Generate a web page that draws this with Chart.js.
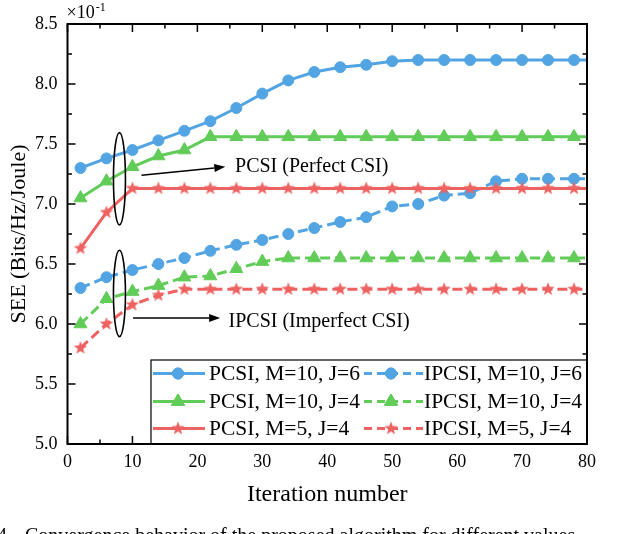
<!DOCTYPE html>
<html>
<head>
<meta charset="utf-8">
<script src="https://cdn.jsdelivr.net/npm/chart.js@4.4.1/dist/chart.umd.min.js"></script>
<style>
  html, body { margin: 0; padding: 0; background: #fff; }
  canvas { display: block; }
</style>
</head>
<body>
<canvas id="chart" width="620" height="534"></canvas>
<script>
// iteration numbers (markers every 4 iterations, last point only carries the line)
var iters = [2, 6, 10, 14, 18, 22, 26, 30, 34, 38, 42, 46, 50, 54, 58, 62, 66, 70, 74, 78, 80];

var pcsiM10J6  = [7.30, 7.38, 7.45, 7.53, 7.61, 7.69, 7.80, 7.92, 8.03, 8.10, 8.14, 8.16, 8.19, 8.20, 8.20, 8.20, 8.20, 8.20, 8.20, 8.20, 8.20];
var pcsiM10J4  = [7.05, 7.19, 7.31, 7.40, 7.45, 7.56, 7.56, 7.56, 7.56, 7.56, 7.56, 7.56, 7.56, 7.56, 7.56, 7.56, 7.56, 7.56, 7.56, 7.56, 7.56];
var pcsiM5J4   = [6.63, 6.93, 7.13, 7.13, 7.13, 7.13, 7.13, 7.13, 7.13, 7.13, 7.13, 7.13, 7.13, 7.13, 7.13, 7.13, 7.13, 7.13, 7.13, 7.13, 7.13];
var ipcsiM10J6 = [6.30, 6.39, 6.45, 6.50, 6.55, 6.61, 6.66, 6.70, 6.75, 6.80, 6.85, 6.89, 6.98, 7.00, 7.07, 7.09, 7.19, 7.21, 7.21, 7.21, 7.21];
var ipcsiM10J4 = [6.00, 6.21, 6.27, 6.32, 6.39, 6.40, 6.46, 6.52, 6.55, 6.55, 6.55, 6.55, 6.55, 6.55, 6.55, 6.55, 6.55, 6.55, 6.55, 6.55, 6.55];
var ipcsiM5J4  = [5.80, 6.00, 6.16, 6.24, 6.29, 6.29, 6.29, 6.29, 6.29, 6.29, 6.29, 6.29, 6.29, 6.29, 6.29, 6.29, 6.29, 6.29, 6.29, 6.29, 6.29];

var seriesLabels = [
  'PCSI, M=10, J=6', 'PCSI, M=10, J=4', 'PCSI, M=5, J=4',
  'IPCSI, M=10, J=6', 'IPCSI, M=10, J=4', 'IPCSI, M=5, J=4'
];

var xTicks = [0, 10, 20, 30, 40, 50, 60, 70, 80];
var yTicks = [5.0, 5.5, 6.0, 6.5, 7.0, 7.5, 8.0, 8.5];

var BLUE = '#52a5e2', GREEN = '#62cc59', RED = '#ee6262';
var FONT = "'Liberation Serif', 'Times New Roman', serif";

function makeStar(color, r) {
  var c = document.createElement('canvas');
  var s = Math.ceil(r * 2 + 2);
  c.width = s; c.height = s;
  var g = c.getContext('2d');
  g.fillStyle = color;
  g.beginPath();
  for (var i = 0; i < 10; i++) {
    var a = -Math.PI / 2 + i * Math.PI / 5;
    var rr = (i % 2) ? r * 0.42 : r;
    var px = s / 2 + Math.cos(a) * rr, py = s / 2 + Math.sin(a) * rr;
    if (i === 0) g.moveTo(px, py); else g.lineTo(px, py);
  }
  g.closePath();
  g.fill();
  return c;
}
var redStar = makeStar(RED, 7);

function pts(values) {
  return values.map(function (v, i) { return { x: iters[i], y: v }; });
}
// no marker on the trailing line-only point
var radii = iters.map(function (v, i) { return i === iters.length - 1 ? 0 : 1; });

function ds(label, values, color, style, size, dashed) {
  return {
    label: label,
    data: pts(values),
    borderColor: color,
    backgroundColor: color,
    borderWidth: 3,
    borderDash: dashed ? [10, 5] : [],
    pointStyle: style,
    pointRadius: radii.map(function (r) { return r * size; }),
    pointBorderWidth: 1,
    pointBackgroundColor: color,
    pointBorderColor: color,
    tension: 0,
    fill: false
  };
}

var datasets = [
  ds(seriesLabels[0], pcsiM10J6, BLUE, 'circle', 5.5, false),
  ds(seriesLabels[1], pcsiM10J4, GREEN, 'triangle', 7.5, false),
  ds(seriesLabels[2], pcsiM5J4, RED, redStar, 7, false),
  ds(seriesLabels[3], ipcsiM10J6, BLUE, 'circle', 5.5, true),
  ds(seriesLabels[4], ipcsiM10J4, GREEN, 'triangle', 7.5, true),
  ds(seriesLabels[5], ipcsiM5J4, RED, redStar, 7, true)
];

function drawMarker(ctx, d, x, y) {
  var st = d.pointStyle;
  if (st instanceof HTMLCanvasElement) {
    ctx.drawImage(st, x - st.width / 2, y - st.height / 2);
    return;
  }
  Chart.helpers.drawPoint(ctx, {
    pointStyle: st, radius: d.pointRadius[0], rotation: 0, borderWidth: 1
  }, x, y);
  ctx.fill();
  ctx.stroke();
}

function arrow(ctx, x1, y1, x2, y2) {
  var ang = Math.atan2(y2 - y1, x2 - x1), L = 11, W = 4;
  ctx.beginPath();
  ctx.moveTo(x1, y1);
  ctx.lineTo(x2 - Math.cos(ang) * L, y2 - Math.sin(ang) * L);
  ctx.stroke();
  ctx.beginPath();
  ctx.moveTo(x2, y2);
  ctx.lineTo(x2 - Math.cos(ang) * L - Math.sin(ang) * W, y2 - Math.sin(ang) * L + Math.cos(ang) * W);
  ctx.lineTo(x2 - Math.cos(ang) * L + Math.sin(ang) * W, y2 - Math.sin(ang) * L - Math.cos(ang) * W);
  ctx.closePath();
  ctx.fill();
}

var decor = {
  id: 'decor',
  afterDraw: function (chart) {
    var ctx = chart.ctx, a = chart.chartArea, xs = chart.scales.x, ys = chart.scales.y;
    ctx.save();
    ctx.strokeStyle = '#000';
    ctx.fillStyle = '#000';
    ctx.lineWidth = 1.5;
    ctx.setLineDash([]);

    // inward ticks on all four sides, minor ticks halfway
    ctx.beginPath();
    xTicks.forEach(function (v, i) {
      var px = xs.getPixelForValue(v);
      ctx.moveTo(px, a.bottom); ctx.lineTo(px, a.bottom - 8);
      ctx.moveTo(px, a.top); ctx.lineTo(px, a.top + 8);
      if (i < xTicks.length - 1) {
        var pm = xs.getPixelForValue((v + xTicks[i + 1]) / 2);
        ctx.moveTo(pm, a.bottom); ctx.lineTo(pm, a.bottom - 4.5);
        ctx.moveTo(pm, a.top); ctx.lineTo(pm, a.top + 4.5);
      }
    });
    yTicks.forEach(function (v, i) {
      var py = ys.getPixelForValue(v);
      ctx.moveTo(a.left, py); ctx.lineTo(a.left + 8, py);
      ctx.moveTo(a.right, py); ctx.lineTo(a.right - 8, py);
      if (i < yTicks.length - 1) {
        var pm = ys.getPixelForValue((v + yTicks[i + 1]) / 2);
        ctx.moveTo(a.left, pm); ctx.lineTo(a.left + 4.5, pm);
        ctx.moveTo(a.right, pm); ctx.lineTo(a.right - 4.5, pm);
      }
    });
    ctx.stroke();

    // legend box, two columns
    var lx = 151, ly = 360, lr = a.right, lb = a.bottom;
    ctx.fillStyle = '#fff';
    ctx.fillRect(lx, ly, lr - lx, lb - ly);
    ctx.lineWidth = 1.2;
    ctx.strokeRect(lx, ly, lr - lx, lb - ly);
    var rows = [373.5, 401.5, 428.5];
    var cols = [{ l0: 153, l1: 205, m: 178, t: 209 }, { l0: 364, l1: 423, m: 391, t: 424 }];
    ctx.font = '21.5px ' + FONT;
    ctx.textBaseline = 'middle';
    ctx.textAlign = 'left';
    datasets.forEach(function (d, i) {
      var c = cols[i < 3 ? 0 : 1], y = rows[i % 3];
      ctx.strokeStyle = d.borderColor;
      ctx.fillStyle = d.borderColor;
      ctx.lineWidth = 3;
      ctx.setLineDash(i < 3 ? [] : [8, 5]);
      ctx.beginPath(); ctx.moveTo(c.l0, y); ctx.lineTo(c.l1, y); ctx.stroke();
      ctx.setLineDash([]);
      ctx.lineWidth = 1;
      drawMarker(ctx, d, c.m, y);
      ctx.fillStyle = '#000';
      ctx.fillText(d.label, c.t, y + 1);
    });

    // plot frame
    ctx.strokeStyle = '#000';
    ctx.fillStyle = '#000';
    ctx.lineWidth = 2;
    ctx.strokeRect(a.left, a.top, a.right - a.left, a.bottom - a.top);

    // annotations (data coordinates)
    ctx.lineWidth = 1.6;
    [[8, 7.21, 0.385], [8, 6.255, 0.36]].forEach(function (e) {
      var cx = xs.getPixelForValue(e[0]), cy = ys.getPixelForValue(e[1]);
      var ry = ys.getPixelForValue(e[1] - e[2]) - cy;
      ctx.beginPath();
      ctx.ellipse(cx, cy, 6, ry, 0, 0, Math.PI * 2);
      ctx.stroke();
    });
    ctx.lineWidth = 1.5;
    arrow(ctx, xs.getPixelForValue(11.4), ys.getPixelForValue(7.24), xs.getPixelForValue(24.3), ys.getPixelForValue(7.31));
    arrow(ctx, xs.getPixelForValue(10.1), ys.getPixelForValue(6.05), xs.getPixelForValue(23.5), ys.getPixelForValue(6.05));
    ctx.font = '20px ' + FONT;
    ctx.textAlign = 'left';
    ctx.textBaseline = 'middle';
    ctx.fillText('PCSI (Perfect CSI)', xs.getPixelForValue(25.8), ys.getPixelForValue(7.32) + 1);
    ctx.fillText('IPCSI (Imperfect CSI)', xs.getPixelForValue(24.8), ys.getPixelForValue(6.03) + 1);

    // axis multiplier
    ctx.font = '18px ' + FONT;
    ctx.textBaseline = 'middle';
    ctx.fillText('\u00d710', a.left - 1, 13);
    var w = ctx.measureText('\u00d710').width;
    ctx.font = '12px ' + FONT;
    ctx.fillText('-1', a.left - 1 + w + 1, 8);

    // caption cut off at the bottom edge
    ctx.font = '20px ' + FONT;
    ctx.textBaseline = 'alphabetic';
    ctx.textAlign = 'right';
    ctx.fillText('4.', 12, 542);
    ctx.textAlign = 'left';
    ctx.fillText('Convergence behavior of the proposed algorithm for different values', 25, 542);
    ctx.restore();
  }
};

new Chart(document.getElementById('chart'), {
  type: 'line',
  data: { datasets: datasets },
  options: {
    responsive: false,
    animation: false,
    layout: { padding: { left: 0, top: 24, right: 33, bottom: 0 } },
    plugins: { legend: { display: false }, tooltip: { enabled: false } },
    scales: {
      x: {
        type: 'linear',
        min: 0, max: 80,
        afterFit: function (s) { s.height = 90; },
        afterBuildTicks: function (s) { s.ticks = xTicks.map(function (v) { return { value: v }; }); },
        grid: { display: false, drawTicks: false },
        border: { display: false },
        ticks: { color: '#000', padding: 7, font: { family: FONT, size: 18 }, maxRotation: 0 },
        title: { display: true, text: 'Iteration number', color: '#000', font: { family: FONT, size: 24 }, padding: { top: 0, bottom: 25 } }
      },
      y: {
        min: 5, max: 8.5,
        afterFit: function (s) { s.width = 67.5; },
        afterBuildTicks: function (s) { s.ticks = yTicks.map(function (v) { return { value: v }; }); },
        grid: { display: false, drawTicks: false },
        border: { display: false },
        ticks: { color: '#000', padding: 10, font: { family: FONT, size: 18 },
          callback: function (v) { return Number(v).toFixed(1); } },
        title: { display: true, text: 'SEE (Bits/Hz/Joule)', color: '#000', font: { family: FONT, size: 22 }, padding: { top: 6, bottom: 0 } }
      }
    }
  },
  plugins: [decor]
});
</script>
</body>
</html>
